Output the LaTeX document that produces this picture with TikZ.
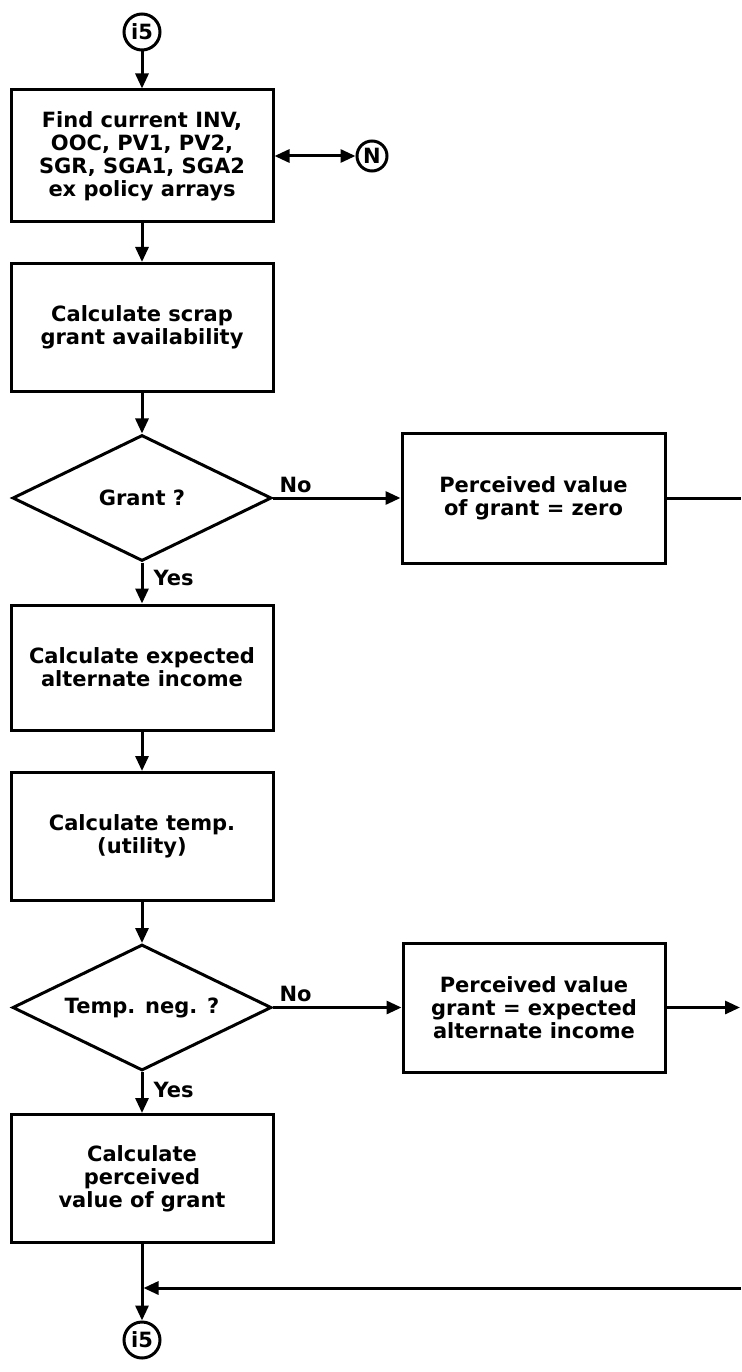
\documentclass[tikz,border=0pt]{standalone}
\usepackage{fontspec}
\setmainfont{DejaVu Sans}
\usetikzlibrary{shapes.geometric,arrows.meta}

\begin{document}
\begin{tikzpicture}[x=1pt, y=-1pt, line width=3pt, >={Triangle[length=15pt,width=13pt]}]
\useasboundingbox (0,0) rectangle (741,1372);
\tikzstyle{every node} = [font=\fontsize{21}{23}\selectfont\bfseries]
\tikzstyle{box} = [draw, rectangle, minimum width=262pt, minimum height=128pt, align=center, inner sep=0pt]
\tikzstyle{test} = [draw, diamond, aspect=2, minimum width=259pt, minimum height=126pt, inner sep=0pt]
\tikzstyle{conn} = [draw, circle, minimum size=36pt, inner sep=0pt]
\node[conn] (start) at (142, 32) {i5};
\node[box, minimum height=132pt] (find) at (142, 156) {Find current INV,\\OOC, PV1, PV2,\\SGR, SGA1, SGA2\\ex policy arrays};
\node[conn, minimum size=30pt] (nconn) at (372, 156) {N};
\node[box] (scrap) at (142, 327.5) {Calculate scrap\\grant availability};
\node[test] (grant) at (142, 498) {Grant ?};
\node[box, minimum width=263pt, minimum height=130pt] (zero) at (533.5, 498) {Perceived value\\of grant = zero};
\node[box, minimum height=125pt] (expinc) at (142, 667.5) {Calculate expected\\alternate income};
\node[box] (temp) at (142, 836.5) {Calculate temp.\\(utility)};
\node[test] (neg) at (142, 1007.5) {Temp. neg. ?};
\node[box, minimum height=129pt] (altinc) at (534, 1007.5) {Perceived value\\grant = expected\\alternate income};
\node[box] (pvg) at (142, 1178.5) {Calculate\\perceived\\value of grant};
\node[conn] (stop) at (142, 1340) {i5};
\node[anchor=south west, inner sep=2pt] (no1) at (276, 496) {No};
\node[anchor=west, inner sep=0pt] (yes1) at (152, 578) {Yes};
\node[anchor=south west, inner sep=2pt] (no2) at (276, 1005) {No};
\node[anchor=west, inner sep=0pt] (yes2) at (152, 1090) {Yes};
\coordinate (zeroout) at (741, 498);
\coordinate (altout) at (740, 1007.5);
\coordinate (mergein) at (741, 1288);
\coordinate (merge) at (143.5, 1288);
\foreach \from/\to in {start/find, find/scrap, scrap/grant, grant/expinc, expinc/temp, temp/neg, neg/pvg, pvg/stop, grant/zero, neg/altinc}
\draw [->] (\from) -- (\to);
\draw [<->] (find) -- (nconn);
\draw [-] (zero) -- (zeroout);
\draw [->] (altinc) -- (altout);
\draw [->] (mergein) -- (merge);
\end{tikzpicture}
\end{document}
